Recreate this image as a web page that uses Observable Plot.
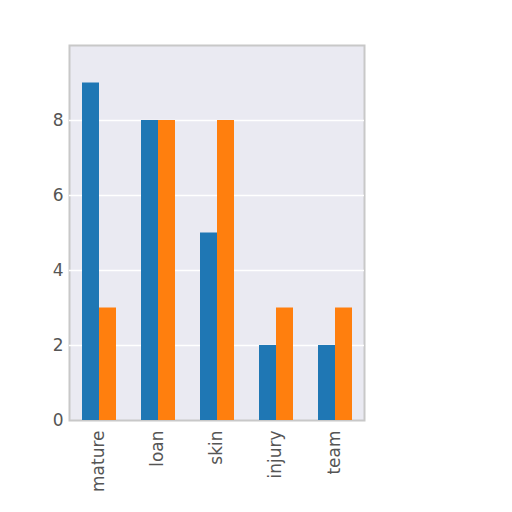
<!DOCTYPE html>
<html><head><meta charset="utf-8">
<script src="https://cdn.jsdelivr.net/npm/d3@7"></script>
<script src="https://cdn.jsdelivr.net/npm/@observablehq/plot@0.6"></script>
<style>body{margin:0;background:#fff;}</style>
</head><body><div id="chart"></div>
<script>
const categories = ["mature", "loan", "skin", "injury", "team"];
const seriesNames = ["A", "B"];
const seriesA = [9, 8, 5, 2, 2];
const seriesB = [3, 8, 8, 3, 3];
const yTicks = [0, 2, 4, 6, 8];

const data = [];
categories.forEach((c, i) => {
  data.push({category: c, series: seriesNames[0], value: seriesA[i]});
  data.push({category: c, series: seriesNames[1], value: seriesB[i]});
});

const chart = Plot.plot({
  width: 512,
  height: 512,
  marginLeft: 68,
  marginRight: 147,
  marginTop: 45,
  marginBottom: 92,
  style: {fontFamily: "DejaVu Sans", fontSize: "17px", color: "#555", background: "#fff"},
  fx: {domain: categories, padding: 0, label: null,
       axis: "bottom", tickRotate: -90, tickSize: 0, tickPadding: 10},
  x: {domain: seriesNames, paddingInner: 0, paddingOuter: 0.72, axis: null},
  y: {domain: [0, 10], ticks: yTicks, tickSize: 0, tickPadding: 6, label: null},
  color: {domain: seriesNames, range: ["#1f77b4", "#ff7f0e"]},
  marks: [
    Plot.frame({facet: "super", fill: "#eaeaf2", stroke: "#c8c8c8", strokeWidth: 2}),
    Plot.gridY(yTicks.slice(1), {stroke: "#fff", strokeOpacity: 1, strokeWidth: 1.5}),
    Plot.barY(data, {fx: "category", x: "series", y: "value", fill: "series", inset: 0})
  ]
});
document.getElementById("chart").appendChild(chart);
</script>
</body></html>
